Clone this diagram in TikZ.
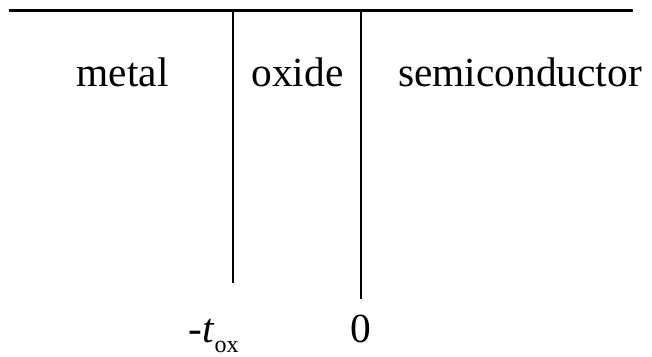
\documentclass[tikz,border=0pt]{standalone}
\usepackage{fontspec}
\setmainfont{Liberation Serif}
\usetikzlibrary{positioning}

\begin{document}
\begin{tikzpicture}[x=0.5pt, y=-0.5pt,
  lbl/.style={anchor=base, inner sep=0pt, font=\fontsize{20.7}{24}\selectfont},
  ax/.style={line width=1.5pt},
  wall/.style={line width=1pt}]
\useasboundingbox (0,0) rectangle (652,357);
% surface line and the two interfaces
\coordinate (left) at (9,11);
\coordinate (right) at (633,11);
\coordinate (mo) at (233,11);
\coordinate (os) at (361,11);
\draw[ax] (left) -- (right);
\draw[wall] (mo) -- (mo |- 0,283);
\draw[wall] (os) -- (os |- 0,299);
% regions
\node[lbl] (metal) at (122.5,87) {metal};
\node[lbl] (oxide) at (297.5,87) {oxide};
\node[lbl] (semi) at (520,87) {semiconductor};
% positions on the axis
\node[lbl, anchor=base west] (tox) at (188,343) {-\textit{t}\raisebox{-0.22em}{\fontsize{12}{14}\selectfont ox}};
\node[lbl] (zero) at (os |- 0,343) {0};
\end{tikzpicture}
\end{document}
